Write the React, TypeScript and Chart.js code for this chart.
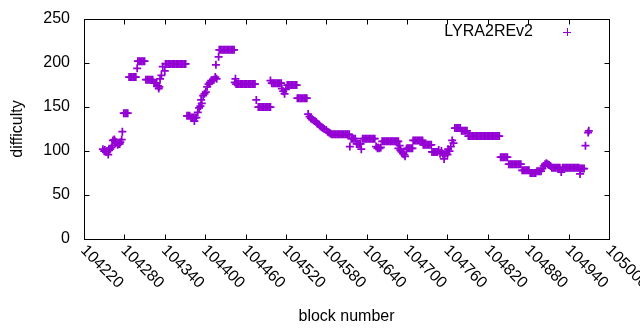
import React, { useEffect, useRef } from 'react';
import { Chart, registerables } from 'chart.js';

Chart.register(...registerables);

const FONT = "'Liberation Sans', Arial, Helvetica, sans-serif";
const seriesLabel = 'LYRA2REv2';
const xTitle = 'block number';
const yTitle = 'difficulty';
const xMin = 104220;
const xMax = 105000;
const xStep = 60;
const yMin = 0;
const yMax = 250;
const yStep = 50;

const blocks = [
  104248, 104250, 104251, 104253, 104254, 104256, 104257, 104259, 104261, 104262,
  104263, 104265, 104266, 104267, 104268, 104270, 104271, 104273, 104274, 104276, 104277,
  104279, 104281, 104283, 104285,
  104287, 104289, 104291, 104293, 104295, 104297, 104299,
  104300, 104302, 104304, 104306, 104308, 104310,
  104312, 104314, 104316, 104318, 104320, 104322,
  104324, 104326, 104328, 104330, 104331, 104332, 104333, 104335, 104337, 104340,
  104341, 104343, 104345, 104347, 104349, 104351, 104353, 104355, 104357, 104359, 104361, 104363, 104365, 104367, 104369, 104371,
  104373, 104375, 104377, 104379, 104381, 104383, 104384, 104385, 104387, 104389,
  104391, 104393, 104394, 104395, 104397, 104399, 104401, 104403,
  104405, 104407, 104409, 104411, 104413, 104415, 104416, 104417, 104420,
  104421, 104423, 104425, 104427, 104429, 104431, 104433, 104435, 104437, 104439, 104441, 104443,
  104444, 104445,
  104446, 104448, 104450, 104452, 104454, 104456, 104458, 104460, 104462, 104464, 104466, 104468, 104470, 104472, 104474,
  104476, 104479, 104481, 104483, 104485, 104487, 104489, 104491, 104493, 104495, 104497,
  104497, 104499, 104501, 104503, 104505, 104507, 104509, 104511, 104513,
  104514, 104516, 104518, 104520,
  104522, 104524, 104526, 104528, 104530, 104532, 104534, 104536,
  104537, 104539, 104541, 104543, 104545, 104547, 104549, 104551,
  104553, 104555, 104557, 104559, 104561, 104563, 104565, 104567, 104569, 104571, 104573, 104575, 104577, 104580, 104582, 104584, 104586,
  104588, 104590, 104592, 104594, 104596, 104598, 104600, 104602, 104604, 104606, 104608, 104610, 104612, 104614,
  104615, 104617, 104619, 104621, 104623, 104625, 104627, 104629, 104631, 104632,
  104634, 104636, 104638, 104640, 104642, 104644, 104646, 104648, 104650, 104652,
  104654, 104656, 104657, 104659, 104661,
  104663, 104665, 104667, 104669, 104671, 104673, 104675, 104677, 104679, 104681, 104683, 104685, 104687,
  104687, 104689, 104690, 104692, 104694, 104696, 104697, 104699,
  104700, 104702, 104704, 104706, 104708,
  104709, 104711, 104713, 104715, 104717, 104719, 104721, 104723,
  104724, 104726, 104728, 104730, 104732, 104734, 104736,
  104737, 104739, 104741, 104743, 104745,
  104747, 104749, 104751, 104753, 104755, 104756, 104758, 104760,
  104761, 104763, 104765, 104767, 104769,
  104771, 104773, 104775, 104777, 104779,
  104781, 104783, 104785, 104787, 104789,
  104791, 104793, 104795, 104797, 104799, 104801, 104803, 104805, 104807, 104809, 104811, 104813,
  104815, 104817, 104819, 104821, 104823, 104825, 104827, 104829, 104831, 104833, 104835, 104837,
  104839, 104841, 104843, 104845, 104847, 104849,
  104851, 104853, 104855, 104857, 104859, 104861, 104863, 104865, 104867, 104869,
  104871, 104873, 104875, 104877, 104879, 104881,
  104883, 104885, 104887, 104889, 104891,
  104893, 104895, 104897, 104899,
  104901, 104903, 104905, 104907, 104909, 104911, 104913,
  104915, 104917, 104919, 104921, 104923, 104925, 104927,
  104929, 104931, 104933, 104935, 104937, 104939, 104941, 104943, 104945, 104947, 104949, 104951, 104953, 104955,
  104957, 104957, 104959, 104961, 104963, 104965, 104969, 104970,
];

const difficulty = [
  102, 100, 101, 99, 100, 96, 101, 102, 104, 106,
  112, 113, 111, 109, 110, 107, 108, 108, 110, 113, 122,
  143, 143, 143, 143,
  184, 184, 184, 184, 184, 184, 194,
  202, 202, 202, 202, 202, 202,
  181, 181, 181, 181, 181, 181,
  177, 177, 177, 174, 171, 173, 182, 186, 196, 191,
  199, 199, 199, 199, 199, 199, 199, 199, 199, 199, 199, 199, 199, 199, 199, 199,
  140, 140, 140, 138, 138, 138, 134, 138, 138, 144,
  149, 151, 158, 154, 163, 165, 167, 173,
  176, 178, 180, 180, 181, 184, 198, 182, 207,
  215, 215, 215, 215, 215, 215, 215, 215, 215, 215, 215, 215,
  178, 182,
  176, 176, 176, 176, 176, 176, 176, 176, 176, 176, 176, 176, 176, 176, 176,
  158, 150, 150, 150, 150, 150, 150, 150, 150, 150, 150,
  180, 177, 177, 177, 177, 177, 177, 177, 177,
  171, 168, 165, 170,
  175, 175, 175, 175, 175, 175, 175, 175,
  160, 160, 160, 160, 160, 160, 160, 160,
  142, 139, 137, 136, 135, 134, 133, 131, 130, 128, 127, 126, 125, 124, 122, 121, 120,
  119, 119, 119, 119, 119, 119, 119, 119, 119, 119, 119, 119, 119, 119,
  105, 114, 114, 114, 114, 108, 108, 108, 108, 102,
  114, 114, 114, 114, 114, 114, 114, 114, 114, 114,
  105, 103, 104, 103, 104,
  111, 111, 111, 111, 111, 111, 111, 111, 111, 111, 111, 111, 111,
  103, 106, 101, 99, 97, 96, 94, 102,
  103, 103, 103, 103, 103,
  112, 112, 112, 112, 112, 112, 112, 112,
  107, 107, 107, 107, 107, 107, 107,
  99, 99, 99, 99, 99,
  101, 97, 100, 97, 91, 95, 98, 96,
  102, 100, 105, 112, 109,
  126, 126, 126, 126, 126,
  123, 123, 123, 123, 123,
  117, 117, 117, 117, 117, 117, 117, 117, 117, 117, 117, 117,
  117, 117, 117, 117, 117, 117, 117, 117, 117, 117, 117, 117,
  93, 93, 93, 93, 93, 93,
  85, 85, 85, 85, 85, 85, 85, 85, 85, 85,
  78, 78, 78, 78, 78, 78,
  75, 75, 75, 75, 75,
  77, 77, 77, 77,
  80, 83, 85, 86, 85, 84, 83,
  81, 81, 81, 81, 81, 81, 81,
  76, 81, 81, 81, 81, 81, 81, 81, 81, 81, 81, 81, 81, 81,
  74, 80, 80, 80, 80, 106, 121, 123,
];

const COLOR = '#9400d3';

export default function App() {
  const ref = useRef<HTMLCanvasElement>(null);

  useEffect(() => {
    if (!ref.current) return;
    const points = blocks.map((b, i) => ({ x: b, y: difficulty[i] }));

    const decor = {
      id: 'gnuplotDecor',
      afterDraw(chart: any) {
        const { ctx, chartArea: a, scales } = chart;
        const xs = scales.x;
        const ys = scales.y;
        const L = Math.round(a.left) + 0.5;
        const R = Math.round(a.right) + 0.5;
        const T = Math.round(a.top) + 0.5;
        const B = Math.round(a.bottom) + 0.5;
        const tl = 5;
        ctx.save();
        ctx.strokeStyle = '#000';
        ctx.lineWidth = 1;
        ctx.beginPath();
        xs.ticks.forEach((t: any) => {
          const px = Math.round(xs.getPixelForValue(t.value)) + 0.5;
          ctx.moveTo(px, B);
          ctx.lineTo(px, B - tl);
          ctx.moveTo(px, T);
          ctx.lineTo(px, T + tl);
        });
        ys.ticks.forEach((t: any) => {
          const py = Math.round(ys.getPixelForValue(t.value)) + 0.5;
          ctx.moveTo(L, py);
          ctx.lineTo(L + tl, py);
          ctx.moveTo(R, py);
          ctx.lineTo(R - tl, py);
        });
        ctx.stroke();
        ctx.strokeRect(L, T, R - L, B - T);

        ctx.fillStyle = '#000';
        ctx.font = `16px ${FONT}`;
        ctx.textAlign = 'left';
        ctx.textBaseline = 'middle';
        xs.ticks.forEach((t: any) => {
          const px = xs.getPixelForValue(t.value);
          ctx.save();
          ctx.translate(px - 1, a.bottom + 9);
          ctx.rotate(Math.PI / 4);
          ctx.fillText(String(t.value), 0, 0);
          ctx.restore();
        });

        // key
        const ky = a.top + 13;
        const kx = a.right - 42;
        ctx.textAlign = 'right';
        ctx.fillText(seriesLabel, a.right - 76, ky);
        ctx.strokeStyle = COLOR;
        ctx.beginPath();
        ctx.moveTo(kx - 4, ky + 0.5);
        ctx.lineTo(kx + 4, ky + 0.5);
        ctx.moveTo(kx + 0.5, ky - 4);
        ctx.lineTo(kx + 0.5, ky + 4);
        ctx.stroke();
        ctx.restore();
      },
    };

    const chart = new Chart(ref.current, {
      type: 'scatter',
      data: {
        datasets: [
          {
            label: seriesLabel,
            data: points,
            pointStyle: 'cross',
            pointRadius: 4,
            pointHoverRadius: 4,
            pointBorderWidth: 1.75,
            borderColor: COLOR,
            backgroundColor: COLOR,
            showLine: false,
          },
        ],
      },
      options: {
        responsive: false,
        animation: false,
        events: [],
        layout: { padding: { left: 0, right: 31, top: 19, bottom: 0 } },
        plugins: {
          legend: { display: false },
          tooltip: { enabled: false },
        },
        scales: {
          x: {
            type: 'linear',
            min: xMin,
            max: xMax,
            ticks: { stepSize: xStep, display: false },
            grid: { display: false, drawTicks: false },
            border: { display: false },
            title: {
              display: true,
              text: xTitle,
              color: '#000',
              font: { family: FONT, size: 16 },
              padding: { top: 0, bottom: 4 },
            },
            afterFit(s: any) {
              s.height = 91;
              s.paddingLeft = 0;
              s.paddingRight = 0;
            },
          },
          y: {
            type: 'linear',
            min: yMin,
            max: yMax,
            ticks: {
              stepSize: yStep,
              color: '#000',
              padding: 14,
              font: { family: FONT, size: 16 },
            },
            grid: { display: false, drawTicks: false },
            border: { display: false },
            title: {
              display: true,
              text: yTitle,
              color: '#000',
              font: { family: FONT, size: 16 },
              padding: { top: 8, bottom: 0 },
            },
            afterFit(s: any) {
              s.width = 84;
              s.paddingTop = 0;
              s.paddingBottom = 0;
            },
          },
        },
      },
      plugins: [decor],
    } as any);

    return () => chart.destroy();
  }, []);

  return (
    <div style={{ position: 'fixed', left: 0, top: 0, width: 640, height: 330, background: '#fff' }}>
      <canvas ref={ref} width={640} height={330} />
    </div>
  );
}
